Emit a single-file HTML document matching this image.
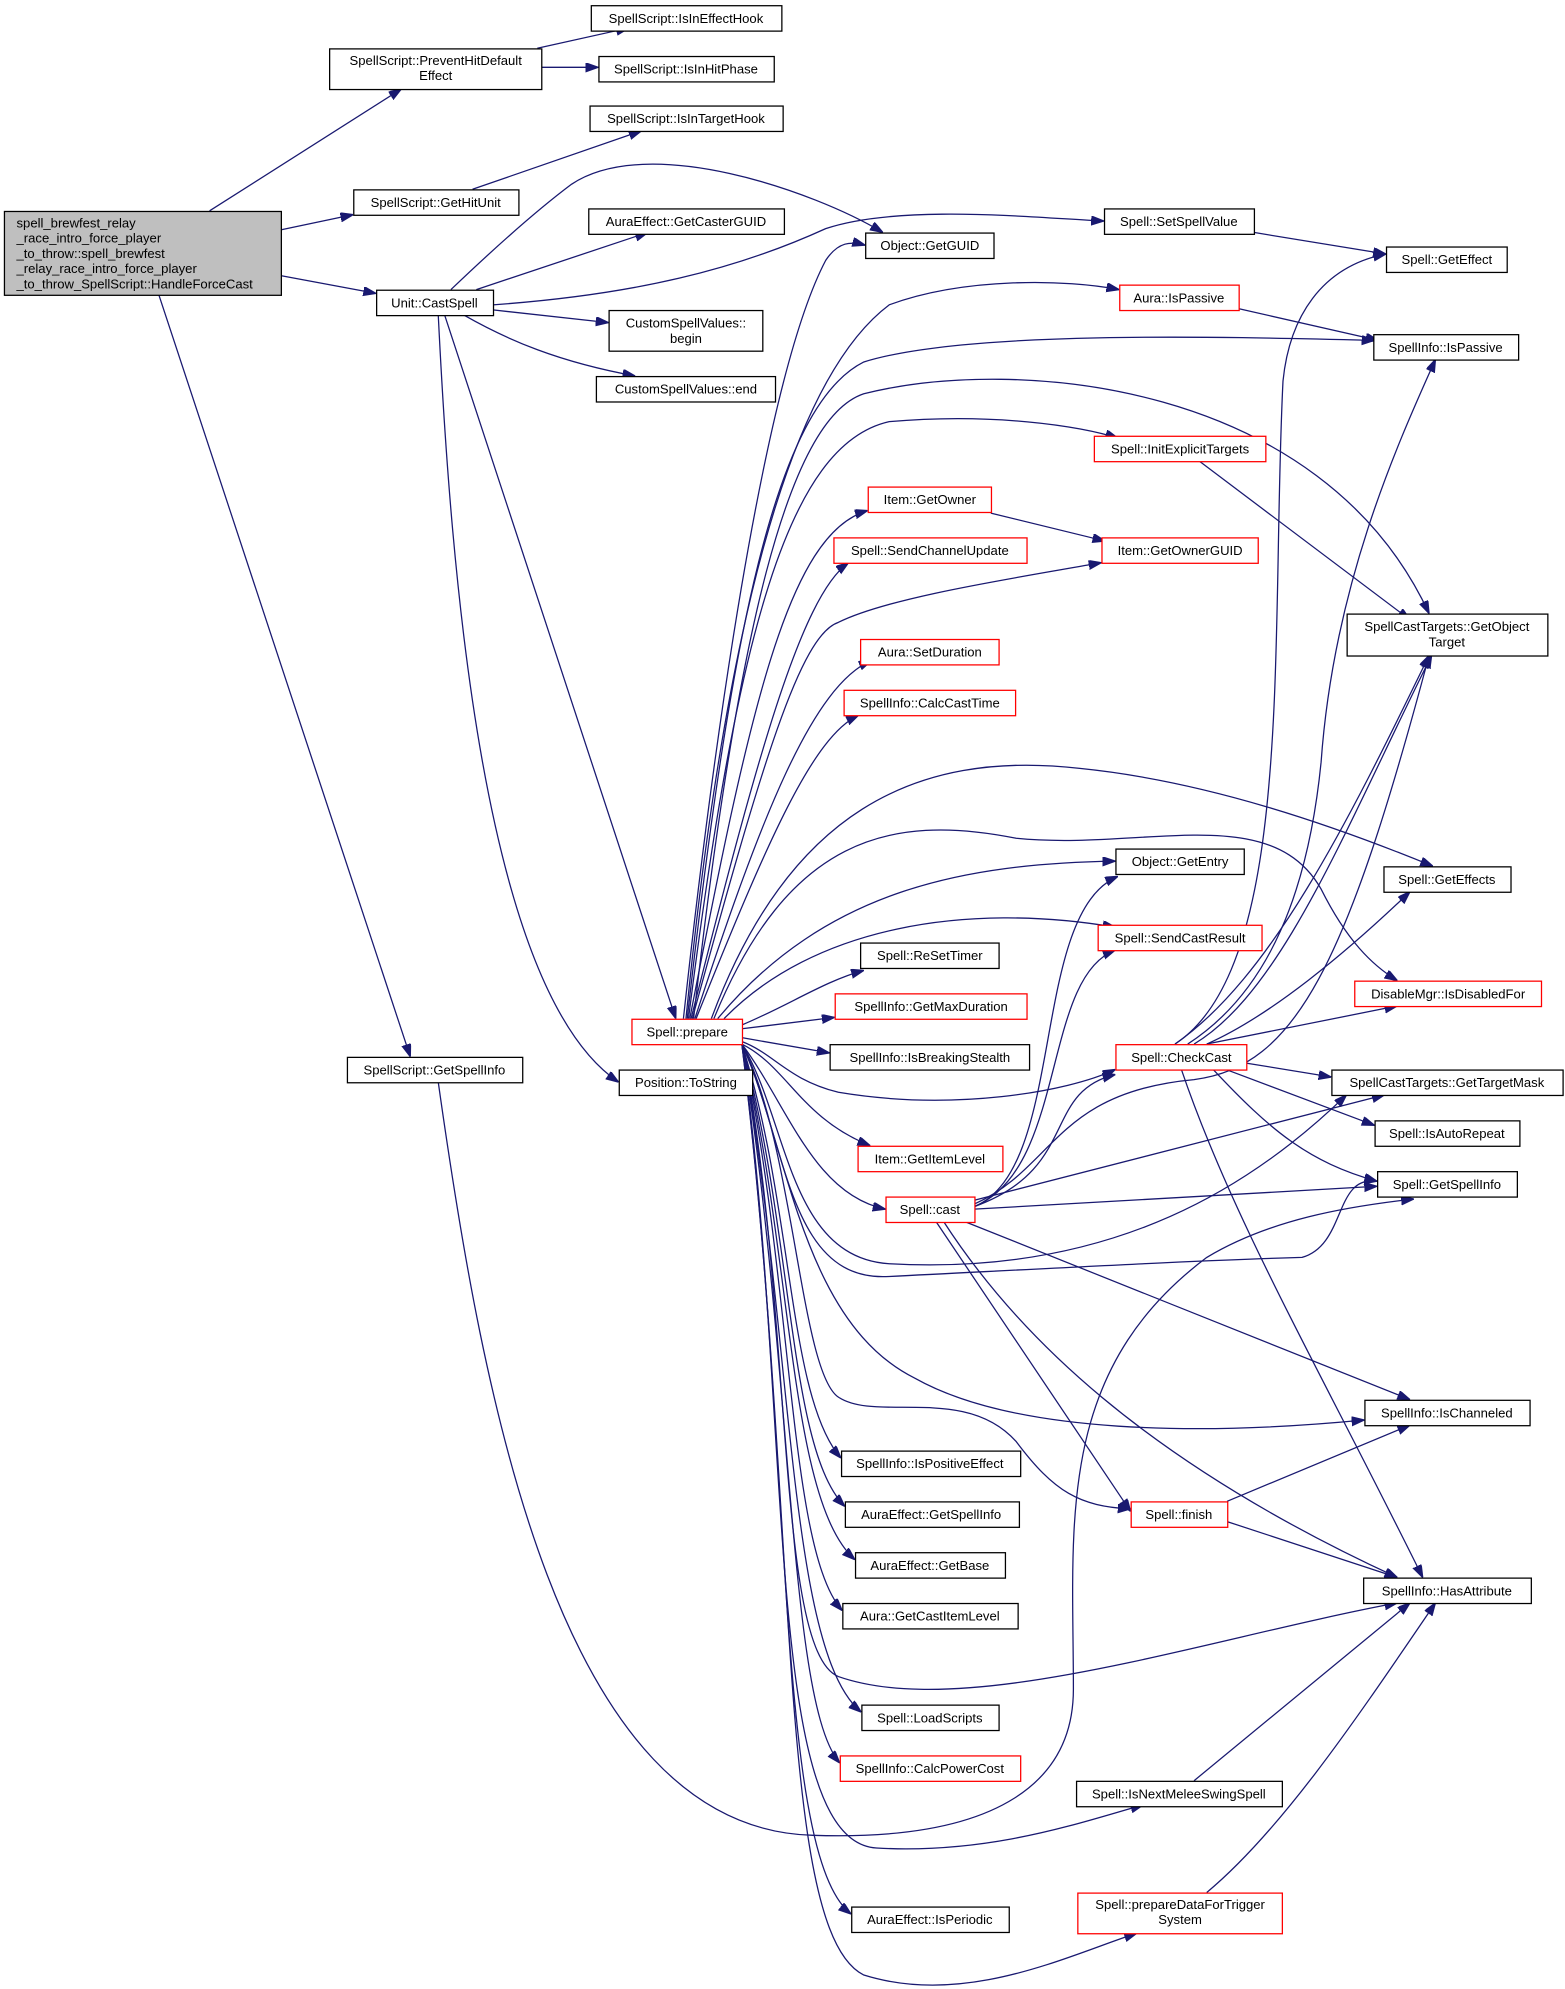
<!DOCTYPE html>
<html><head><meta charset="utf-8"><style>
html,body{margin:0;padding:0;background:#fff;}
svg{display:block;}
text{font-family:"Liberation Sans","DejaVu Sans",sans-serif;font-size:10.3px;fill:#000;text-anchor:middle;}
.b{fill:#fff;stroke:#000;stroke-width:1;}
.r{fill:#fff;stroke:#ff0000;stroke-width:1;}
.g{fill:#bfbfbf;stroke:#000;stroke-width:1;}
.e{fill:none;stroke:#191970;stroke-width:1;marker-end:url(#a);}
</style></head><body>
<svg width="1565" height="1989" viewBox="0 0 1232 1566" preserveAspectRatio="none" xmlns="http://www.w3.org/2000/svg">
<defs><marker id="a" markerUnits="userSpaceOnUse" markerWidth="10" markerHeight="8" refX="10" refY="3.5" orient="auto"><path d="M0,0 L10,3.5 L0,7 z" fill="#191970" stroke="#191970"/></marker></defs>

<g>
<path class="e" d="M165,166 L316,70"/>
<path class="e" d="M221,181 L278,169"/>
<path class="e" d="M221,217 L296,231"/>
<path class="e" d="M125,232 L323,832"/>
<path class="e" d="M423,38 L495,22"/>
<path class="e" d="M426,53 L471,53"/>
<path class="e" d="M372,149 L505,103"/>
<path class="e" d="M375,228 L510,183"/>
<path class="e" d="M355,228 C400,185 430,160 450,145 C510,105 640,150 695,183"/>
<path class="e" d="M388,240 C500,232 580,212 650,180 C710,160 820,172 869,174"/>
<path class="e" d="M388,244 L479,254"/>
<path class="e" d="M365,248 C400,268 440,285 500,296"/>
<path class="e" d="M350,248 L532,802"/>
<path class="e" d="M345,248 C355,450 380,780 487,852"/>
<path class="e" d="M987,183 L1091,200"/>
<path class="e" d="M975,243 L1085,268"/>
<path class="e" d="M944,363 L1110,488"/>
<path class="e" d="M780,404 L870,426"/>
<path class="e" d="M345,852 C380,1100 440,1440 640,1445 C790,1450 845,1400 845,1330 C845,1200 830,1080 950,990 C1000,960 1060,950 1113,944"/>
<path class="e" d="M538,802 C560,600 600,300 650,205 C660,190 670,190 681,193"/>
<path class="e" d="M540,802 C570,500 620,300 700,240 C760,218 840,220 881,228"/>
<path class="e" d="M541,802 C575,500 610,320 680,285 C760,260 960,265 1082,268"/>
<path class="e" d="M542,802 C580,500 620,350 700,332 C780,325 850,335 880,345"/>
<path class="e" d="M543,802 C590,560 620,420 683,402"/>
<path class="e" d="M544,802 C595,600 630,470 668,443"/>
<path class="e" d="M545,802 C600,600 630,500 660,490 C700,470 800,455 867,443"/>
<path class="e" d="M546,802 C580,500 620,330 680,310 C800,280 1040,300 1125,483"/>
<path class="e" d="M547,802 C600,640 640,540 686,520"/>
<path class="e" d="M548,802 C605,660 640,580 676,563"/>
<path class="e" d="M560,802 C620,640 720,590 850,605 C950,615 1050,650 1128,682"/>
<path class="e" d="M562,802 C620,660 700,640 800,660 C900,670 1000,630 1040,700 C1060,740 1080,760 1100,772"/>
<path class="e" d="M565,802 C650,700 760,680 878,678"/>
<path class="e" d="M570,802 C640,730 760,710 878,730"/>
<path class="e" d="M584,807 C620,792 650,772 680,764"/>
<path class="e" d="M584,810 L657,801"/>
<path class="e" d="M584,817 L653,829"/>
<path class="e" d="M584,820 C610,830 620,850 660,860 C750,875 840,860 878,842"/>
<path class="e" d="M584,822 C620,840 630,880 685,902"/>
<path class="e" d="M584,822 C620,870 640,940 697,952"/>
<path class="e" d="M584,822 C620,880 620,990 700,995 C880,1005 990,930 1060,862"/>
<path class="e" d="M584,822 C620,900 620,1010 700,1005 C840,998 950,992 1025,990 C1060,980 1050,925 1084,930"/>
<path class="e" d="M584,822 C620,900 630,1040 720,1085 C800,1130 950,1130 1074,1118"/>
<path class="e" d="M584,822 C625,900 630,1080 660,1100 C690,1120 760,1090 800,1135 C830,1175 850,1186 890,1188"/>
<path class="e" d="M584,822 C625,950 620,1100 662,1148"/>
<path class="e" d="M584,822 C625,970 620,1140 665,1186"/>
<path class="e" d="M584,822 C625,990 620,1180 673,1228"/>
<path class="e" d="M584,822 C625,1010 620,1220 663,1268"/>
<path class="e" d="M584,822 C625,1030 610,1300 660,1320 C760,1355 950,1290 1100,1262"/>
<path class="e" d="M584,822 C625,1060 620,1300 678,1348"/>
<path class="e" d="M584,822 C625,1080 620,1340 661,1388"/>
<path class="e" d="M584,822 C625,1120 600,1450 690,1455 C780,1460 850,1435 900,1421"/>
<path class="e" d="M584,822 C625,1150 610,1460 670,1507"/>
<path class="e" d="M584,822 C630,1200 610,1520 680,1555 C760,1580 840,1540 895,1522"/>
<path class="e" d="M767,950 C840,920 820,770 878,748"/>
<path class="e" d="M767,950 C840,920 810,720 880,690"/>
<path class="e" d="M767,950 C850,920 820,860 878,846"/>
<path class="e" d="M767,948 C830,920 830,860 940,850 C1020,840 1060,760 1125,516"/>
<path class="e" d="M767,945 L1090,862"/>
<path class="e" d="M767,952 L1084,934"/>
<path class="e" d="M760,962 L1110,1102"/>
<path class="e" d="M737,962 L890,1190"/>
<path class="e" d="M743,962 C800,1050 900,1150 1100,1242"/>
<path class="e" d="M925,822 C1020,760 1000,500 1010,300 C1015,250 1040,210 1091,200"/>
<path class="e" d="M935,822 C1000,780 1030,700 1040,600 C1050,460 1100,350 1130,283"/>
<path class="e" d="M925,822 C1000,770 1060,650 1125,516"/>
<path class="e" d="M940,822 C1010,780 1060,650 1127,516"/>
<path class="e" d="M950,822 C1000,800 1060,750 1110,702"/>
<path class="e" d="M950,822 L1100,792"/>
<path class="e" d="M981,837 L1048,848"/>
<path class="e" d="M965,842 L1082,886"/>
<path class="e" d="M955,842 C1000,890 1030,915 1084,930"/>
<path class="e" d="M930,842 C970,960 1040,1080 1120,1242"/>
<path class="e" d="M966,1182 L1110,1122"/>
<path class="e" d="M966,1198 L1100,1242"/>
<path class="e" d="M940,1402 L1110,1262"/>
<path class="e" d="M950,1490 C1010,1440 1070,1350 1130,1262"/>
</g>

<rect class="g" x="3.5" y="166.5" width="218" height="66"/>
<text style="text-anchor:start"><tspan x="13" y="179">spell_brewfest_relay</tspan><tspan x="13" y="191">_race_intro_force_player</tspan><tspan x="13" y="203">_to_throw::spell_brewfest</tspan><tspan x="13" y="215">_relay_race_intro_force_player</tspan><tspan x="13" y="227">_to_throw_SpellScript::HandleForceCast</tspan></text>

<rect class="b" x="259.5" y="38.5" width="167" height="32"/><text x="343" y="51">SpellScript::PreventHitDefault</text><text x="343" y="63">Effect</text>
<rect class="b" x="465.5" y="4.5" width="150" height="20"/><text x="540" y="18">SpellScript::IsInEffectHook</text>
<rect class="b" x="471.5" y="44.5" width="138" height="20"/><text x="540" y="58">SpellScript::IsInHitPhase</text>
<rect class="b" x="464.5" y="83.5" width="152" height="20"/><text x="540" y="97">SpellScript::IsInTargetHook</text>
<rect class="b" x="278.5" y="149.5" width="130" height="20"/><text x="343" y="163">SpellScript::GetHitUnit</text>
<rect class="b" x="463.5" y="164.5" width="154" height="20"/><text x="540" y="178">AuraEffect::GetCasterGUID</text>
<rect class="b" x="296.5" y="228.5" width="92" height="20"/><text x="342" y="242">Unit::CastSpell</text>
<rect class="b" x="479.5" y="244.5" width="121" height="32"/><text x="540" y="258">CustomSpellValues::</text><text x="540" y="270">begin</text>
<rect class="b" x="469.5" y="296.5" width="141" height="20"/><text x="540" y="310">CustomSpellValues::end</text>
<rect class="b" x="681.5" y="183.5" width="101" height="20"/><text x="732" y="197">Object::GetGUID</text>
<rect class="b" x="869.5" y="164.5" width="118" height="20"/><text x="928" y="178">Spell::SetSpellValue</text>
<rect class="b" x="1091.5" y="194.5" width="95" height="20"/><text x="1139" y="208">Spell::GetEffect</text>
<rect class="r" x="881.5" y="224.5" width="94" height="20"/><text x="928" y="238">Aura::IsPassive</text>
<rect class="b" x="1081.5" y="263.5" width="114" height="20"/><text x="1138" y="277">SpellInfo::IsPassive</text>
<rect class="r" x="861.5" y="343.5" width="135" height="20"/><text x="929" y="357">Spell::InitExplicitTargets</text>
<rect class="r" x="683.5" y="383.5" width="97" height="20"/><text x="732" y="397">Item::GetOwner</text>
<rect class="r" x="656.5" y="423.5" width="152" height="20"/><text x="732" y="437">Spell::SendChannelUpdate</text>
<rect class="r" x="867.5" y="423.5" width="123" height="20"/><text x="929" y="437">Item::GetOwnerGUID</text>
<rect class="b" x="1060.5" y="483.5" width="158" height="33"/><text x="1139" y="497">SpellCastTargets::GetObject</text><text x="1139" y="509">Target</text>
<rect class="r" x="677.5" y="503.5" width="109" height="20"/><text x="732" y="517">Aura::SetDuration</text>
<rect class="r" x="664.5" y="543.5" width="135" height="20"/><text x="732" y="557">SpellInfo::CalcCastTime</text>
<rect class="b" x="878.5" y="668.5" width="101" height="20"/><text x="929" y="682">Object::GetEntry</text>
<rect class="b" x="1089.5" y="682.5" width="100" height="20"/><text x="1139" y="696">Spell::GetEffects</text>
<rect class="r" x="864.5" y="728.5" width="129" height="20"/><text x="929" y="742">Spell::SendCastResult</text>
<rect class="b" x="677.5" y="742.5" width="109" height="20"/><text x="732" y="756">Spell::ReSetTimer</text>
<rect class="r" x="1066.5" y="772.5" width="147" height="20"/><text x="1140" y="786">DisableMgr::IsDisabledFor</text>
<rect class="r" x="657.5" y="782.5" width="151" height="20"/><text x="733" y="796">SpellInfo::GetMaxDuration</text>
<rect class="r" x="497.5" y="802.5" width="87" height="20"/><text x="541" y="816">Spell::prepare</text>
<rect class="b" x="653.5" y="822.5" width="157" height="20"/><text x="732" y="836">SpellInfo::IsBreakingStealth</text>
<rect class="r" x="878.5" y="822.5" width="103" height="20"/><text x="930" y="836">Spell::CheckCast</text>
<rect class="b" x="273.5" y="832.5" width="138" height="20"/><text x="342" y="846">SpellScript::GetSpellInfo</text>
<rect class="b" x="487.5" y="842.5" width="105" height="20"/><text x="540" y="856">Position::ToString</text>
<rect class="b" x="1048.5" y="842.5" width="182" height="20"/><text x="1139" y="856">SpellCastTargets::GetTargetMask</text>
<rect class="b" x="1082.5" y="882.5" width="114" height="20"/><text x="1139" y="896">Spell::IsAutoRepeat</text>
<rect class="r" x="675.5" y="902.5" width="114" height="20"/><text x="732" y="916">Item::GetItemLevel</text>
<rect class="r" x="697.5" y="942.5" width="70" height="20"/><text x="732" y="956">Spell::cast</text>
<rect class="b" x="1084.5" y="922.5" width="110" height="20"/><text x="1139" y="936">Spell::GetSpellInfo</text>
<rect class="b" x="1074.5" y="1102.5" width="130" height="20"/><text x="1139" y="1116">SpellInfo::IsChanneled</text>
<rect class="b" x="662.5" y="1142.5" width="141" height="20"/><text x="732" y="1156">SpellInfo::IsPositiveEffect</text>
<rect class="r" x="890.5" y="1182.5" width="76" height="20"/><text x="928" y="1196">Spell::finish</text>
<rect class="b" x="665.5" y="1182.5" width="137" height="20"/><text x="733" y="1196">AuraEffect::GetSpellInfo</text>
<rect class="b" x="1073.5" y="1242.5" width="132" height="20"/><text x="1139" y="1256">SpellInfo::HasAttribute</text>
<rect class="b" x="673.5" y="1222.5" width="118" height="20"/><text x="732" y="1236">AuraEffect::GetBase</text>
<rect class="b" x="663.5" y="1262.5" width="138" height="20"/><text x="732" y="1276">Aura::GetCastItemLevel</text>
<rect class="b" x="678.5" y="1342.5" width="108" height="20"/><text x="732" y="1356">Spell::LoadScripts</text>
<rect class="r" x="661.5" y="1382.5" width="142" height="20"/><text x="732" y="1396">SpellInfo::CalcPowerCost</text>
<rect class="b" x="847.5" y="1402.5" width="162" height="20"/><text x="928" y="1416">Spell::IsNextMeleeSwingSpell</text>
<rect class="b" x="670.5" y="1501.5" width="124" height="20"/><text x="732" y="1515">AuraEffect::IsPeriodic</text>
<rect class="r" x="848.5" y="1490.5" width="161" height="32"/><text x="929" y="1503">Spell::prepareDataForTrigger</text><text x="929" y="1515">System</text>
</svg>
</body></html>
